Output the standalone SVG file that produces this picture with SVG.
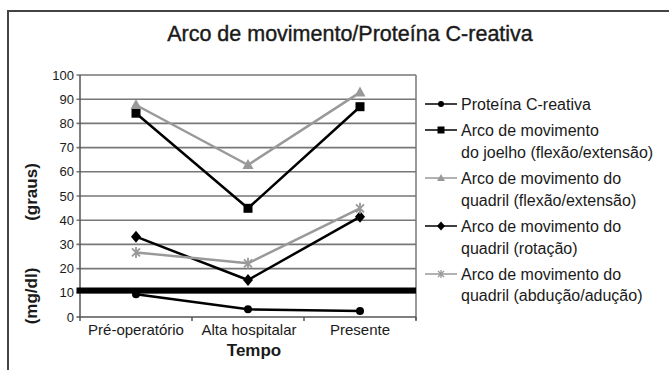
<svg xmlns="http://www.w3.org/2000/svg" xmlns:xlink="http://www.w3.org/1999/xlink" width="669" height="370" viewBox="0 0 669 370">
<style>
text{font-family:"Liberation Sans",Arial,sans-serif;fill:#1a1a1a}
.tick{font-size:13px;text-anchor:end}
.cat{font-size:15px;text-anchor:middle}
.leg{font-size:16px}
.axt{font-size:17px;font-weight:bold;text-anchor:middle}
.grid{stroke:#777;stroke-width:1.6;fill:none}
.blk{stroke:#000;stroke-width:2.5;fill:none;stroke-linejoin:round}
.gry{stroke:#999;stroke-width:2.5;fill:none;stroke-linejoin:round}
.lblk{stroke:#000;stroke-width:1.5;fill:none}
.lgry{stroke:#999;stroke-width:1.5;fill:none}
</style>
<defs>
<circle id="mc" r="4" fill="#000"/>
<rect id="ms" x="-4.5" y="-4.5" width="9" height="9" fill="#000"/>
<polygon id="mt" points="0,-6 5.5,4 -5.5,4" fill="#999"/>
<polygon id="md" points="0,-6 5,0 0,6 -5,0" fill="#000"/>
<path id="ma" d="M-4,-4L4,4M-4,4L4,-4M0,-5.5V5.5" stroke="#999" stroke-width="1.8" fill="none"/>
<circle id="lc" r="3" fill="#000"/>
<rect id="ls" x="-3.5" y="-3.5" width="7" height="7" fill="#000"/>
<polygon id="lt" points="0,-4 4,3 -4,3" fill="#999"/>
<polygon id="ld" points="0,-4.5 4,0 0,4.5 -4,0" fill="#000"/>
<path id="la" d="M-3,-3L3,3M-3,3L3,-3M0,-4V4" stroke="#999" stroke-width="1.3" fill="none"/>
</defs>
<rect width="669" height="370" fill="#fff"/>
<path d="M8,370V11H669" stroke="#444" stroke-width="2" fill="none"/>
<text x="350" y="41" style="font-size:21.5px;text-anchor:middle;stroke:#1a1a1a;stroke-width:0.4">Arco de movimento/Proteína C-reativa</text>

<g id="axes">
<path class="grid" d="M76.5,75H416M76.5,99.2H416M76.5,123.4H416M76.5,147.6H416M76.5,171.8H416M76.5,196H416M76.5,220.2H416M76.5,244.4H416M76.5,268.6H416M76.5,292.8H416"/>
<path d="M416,75V320" stroke="#777" stroke-width="1.5"/>
<path d="M80,75V321M76.5,317H416M80,317V321M192,317V321M304,317V321M416,317V321" stroke="#555" stroke-width="1.5" fill="none"/>
<g class="tick">
<text x="74" y="79.5">100</text>
<text x="74" y="103.7">90</text>
<text x="74" y="127.9">80</text>
<text x="74" y="152.1">70</text>
<text x="74" y="176.3">60</text>
<text x="74" y="200.5">50</text>
<text x="74" y="224.7">40</text>
<text x="74" y="248.9">30</text>
<text x="74" y="273.1">20</text>
<text x="74" y="297.3">10</text>
<text x="74" y="321.5">0</text>
</g>
<g class="cat">
<text x="136" y="335">Pré-operatório</text>
<text x="249" y="335">Alta hospitalar</text>
<text x="360" y="335">Presente</text>
</g>
<text class="axt" x="254" y="356">Tempo</text>
<text class="axt" transform="translate(37,192) rotate(-90)">(graus)</text>
<text class="axt" transform="translate(37,296) rotate(-90)">(mg/dl)</text>
</g>

<path id="limiar" d="M76.5,290.5H416" stroke="#000" stroke-width="6"/>

<g id="connectors">
<polyline id="s-pcr" class="blk" points="136,294.3 248,309.3 360,311"/>
<polyline id="s-joelho" class="blk" points="136,113.2 248,208.3 360,106.7"/>
<polyline id="s-qflex" class="gry" points="136,105 248,165 360,92.4"/>
<polyline id="s-qrot" class="blk" points="136,236.7 248,280 360,216.8"/>
<polyline id="s-qabd" class="gry" points="136,252.4 248,263.3 360,208.3"/>
</g>

<g id="markers">
<g id="m-pcr"><use xlink:href="#mc" x="136" y="294.3"/><use xlink:href="#mc" x="248" y="309.3"/><use xlink:href="#mc" x="360" y="311"/></g>
<g id="m-joelho"><use xlink:href="#ms" x="136" y="113.2"/><use xlink:href="#ms" x="248" y="208.3"/><use xlink:href="#ms" x="360" y="106.7"/></g>
<g id="m-qflex"><use xlink:href="#mt" x="136" y="105"/><use xlink:href="#mt" x="248" y="165"/><use xlink:href="#mt" x="360" y="92.4"/></g>
<g id="m-qrot"><use xlink:href="#md" x="136" y="236.7"/><use xlink:href="#md" x="248" y="280"/><use xlink:href="#md" x="360" y="216.8"/></g>
<g id="m-qabd"><use xlink:href="#ma" x="136" y="252.4"/><use xlink:href="#ma" x="248" y="263.3"/><use xlink:href="#ma" x="360" y="208.3"/></g>
</g>

<g id="legend" class="leg">
<g id="leg-pcr"><path class="lblk" d="M425,104H457"/><use xlink:href="#lc" x="441" y="104"/><text x="461" y="110">Proteína C-reativa</text></g>
<g id="leg-joelho"><path class="lblk" d="M425,130H457"/><use xlink:href="#ls" x="441" y="130"/><text x="461" y="136">Arco de movimento</text><text x="461" y="158">do joelho (flexão/extensão)</text></g>
<g id="leg-qflex"><path class="lgry" d="M425,178H457"/><use xlink:href="#lt" x="441" y="178"/><text x="461" y="184">Arco de movimento do</text><text x="461" y="206">quadril (flexão/extensão)</text></g>
<g id="leg-qrot"><path class="lblk" d="M425,226H457"/><use xlink:href="#ld" x="441" y="226"/><text x="461" y="232">Arco de movimento do</text><text x="461" y="254">quadril (rotação)</text></g>
<g id="leg-qabd"><path class="lgry" d="M425,274H457"/><use xlink:href="#la" x="441" y="274"/><text x="461" y="280">Arco de movimento do</text><text x="461" y="301">quadril (abdução/adução)</text></g>
</g>
</svg>
